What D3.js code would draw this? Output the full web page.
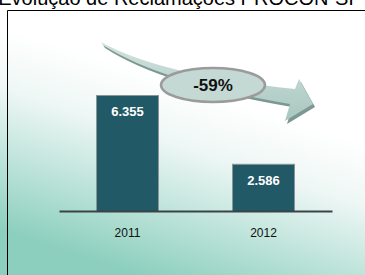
<!DOCTYPE html>
<html>
<head>
<meta charset="utf-8">
<script src="https://cdn.jsdelivr.net/npm/d3@7"></script>
<style>
  html, body { margin: 0; padding: 0; background: #fff; }
  svg { display: block; }
</style>
</head>
<body>
<svg id="chart"></svg>
<script>
// chart data
var years = ["2011", "2012"];
var complaints = [6355, 2586];
var title = "Evolução de Reclamações PROCON-SP";

var width = 365, height = 275;
var base = 211;

var svg = d3.select("#chart").attr("width", width).attr("height", height);
var defs = svg.append("defs");

// background fade, white on top to teal at the bottom
var bg = defs.append("linearGradient").attr("id", "bg")
  .attr("gradientUnits", "userSpaceOnUse")
  .attr("x1", 230).attr("y1", 100).attr("x2", 170).attr("y2", 285);
bg.append("stop").attr("offset", 0).attr("stop-color", "#ffffff");
bg.append("stop").attr("offset", 0.3).attr("stop-color", "#eef7f5");
bg.append("stop").attr("offset", 1).attr("stop-color", "#8ccfbe");

var arrowFill = defs.append("linearGradient").attr("id", "arrowFill")
  .attr("x1", 0).attr("y1", 0).attr("x2", 0).attr("y2", 1);
arrowFill.append("stop").attr("offset", 0).attr("stop-color", "#d3e3de");
arrowFill.append("stop").attr("offset", 1).attr("stop-color", "#a7c7bf");

svg.append("rect").attr("width", width).attr("height", height).attr("fill", "url(#bg)");

// title, mostly cut off by the top edge as in the source image
svg.append("text")
  .attr("x", 180).attr("y", 5)
  .attr("text-anchor", "middle")
  .style("font-family", "Liberation Sans, Arial, sans-serif")
  .style("font-size", "20px")
  .attr("fill", "#000")
  .text(title);

// frame
svg.append("path")
  .attr("d", "M7.5," + height + "V10.5H" + width)
  .attr("fill", "none").attr("stroke", "#000").attr("stroke-width", 1);

var x = d3.scaleBand().domain(years).range([59, 332])
  .paddingInner(0.537).paddingOuter(0.272);
var y = d3.scaleLinear().domain([0, 6355]).range([base, 95]);

var rows = years.map(function(d, i) { return { year: d, value: complaints[i] }; });

svg.selectAll("rect.bar")
  .data(rows)
  .enter().append("rect")
  .attr("class", "bar")
  .attr("x", function(d) { return x(d.year) + 0.5; })
  .attr("y", function(d) { return y(d.value) + 0.5; })
  .attr("width", x.bandwidth() - 1)
  .attr("height", function(d) { return base - y(d.value); })
  .attr("fill", "#215966")
  .attr("stroke", "#8a9696")
  .attr("stroke-width", 1);

// baseline / x axis
var xAxis = svg.append("g").attr("transform", "translate(0," + base + ")")
  .call(d3.axisBottom(x).tickSize(0).tickPadding(17));
xAxis.select(".domain").attr("stroke", "#3a4446").attr("stroke-width", 2);
xAxis.selectAll("text")
  .style("font-family", "Liberation Sans, Arial, sans-serif")
  .style("font-size", "12px")
  .attr("fill", "#111");

var ptBR = d3.formatLocale({ decimal: ",", thousands: ".", grouping: [3], currency: ["R$", ""] });
var fmt = ptBR.format(",d");

svg.selectAll("text.val")
  .data(rows)
  .enter().append("text")
  .attr("class", "val")
  .attr("x", function(d) { return x(d.year) + x.bandwidth() / 2; })
  .attr("y", function(d) { return y(d.value) + 21; })
  .attr("text-anchor", "middle")
  .style("font-family", "Liberation Sans, Arial, sans-serif")
  .style("font-size", "13px")
  .style("font-weight", "bold")
  .attr("fill", "#fff")
  .text(function(d) { return fmt(d.value); });

// curved arrow with the change badge
var cx = 213, cy = 85;
function arrowPath(dx, dy) {
  var p = d3.path();
  p.moveTo(cx - 112 + dx, cy - 43 + dy);
  p.quadraticCurveTo(cx - 53 + dx, cy - 10 + dy, cx + 82 + dx, cy + 4 + dy);
  p.lineTo(cx + 86 + dx, cy - 6 + dy);
  p.lineTo(cx + 100 + dx, cy + 19 + dy);
  p.lineTo(cx + 72 + dx, cy + 36 + dy);
  p.lineTo(cx + 77 + dx, cy + 19 + dy);
  p.quadraticCurveTo(cx - 53 + dx, cy - 3 + dy, cx - 110 + dx, cy - 40 + dy);
  p.closePath();
  return p.toString();
}
svg.append("path").attr("d", arrowPath(2, 3)).attr("fill", "#7d9891");
svg.append("path").attr("d", arrowPath(0, 0)).attr("fill", "url(#arrowFill)");

svg.append("ellipse")
  .attr("cx", cx).attr("cy", cy).attr("rx", 52).attr("ry", 17)
  .attr("fill", "#c4d9d3").attr("stroke", "#9b9b9b").attr("stroke-width", 2.5);

var change = complaints[1] / complaints[0] - 1;
svg.append("text")
  .attr("x", cx).attr("y", cy + 6)
  .attr("text-anchor", "middle")
  .style("font-family", "Liberation Sans, Arial, sans-serif")
  .style("font-size", "17px")
  .style("font-weight", "bold")
  .attr("fill", "#111")
  .text(d3.format(".0%")(change).replace("−", "-"));
</script>
</body>
</html>
